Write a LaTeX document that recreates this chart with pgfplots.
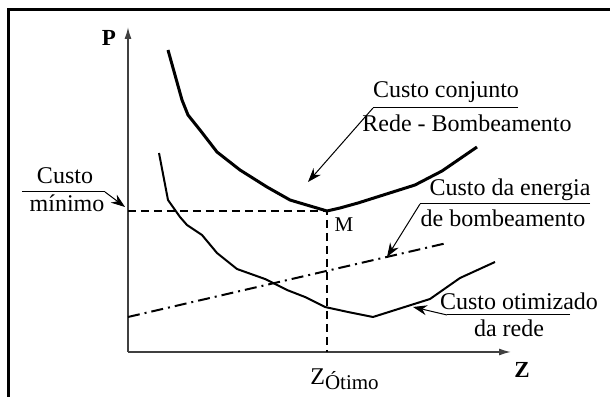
\documentclass[border=0pt]{standalone}
\usepackage{fontspec}
\setmainfont{Liberation Serif}
\usepackage{pgfplots}
\pgfplotsset{compat=1.18}
\usetikzlibrary{arrows.meta}
\tikzset{ann/.style={font=\fontsize{12}{14}\selectfont, anchor=base, inner sep=0pt},
         pointer/.style={line width=0.5pt, -{Stealth[length=7pt,width=5pt]}}}

\begin{document}
\begin{tikzpicture}
\begin{axis}[
    scale only axis,
    width=191.5pt, height=162.5pt,
    xmin=0, xmax=383, ymin=0, ymax=325,
    enlargelimits=false,
    axis lines=left,
    axis line style={draw=black!75, line width=0.75pt, -{Latex[length=6pt,width=3.5pt]}},
    ticks=none,
    clip=false,
    ]
% custo conjunto rede - bombeamento
\addplot[black, line width=1.5pt, line join=round] coordinates {
    (40,302) (54,252) (60,237) (72,222) (89,200) (112,182) (139,165)
    (162,152) (172,149) (199,141) (212,144) (230,149) (287,167) (314,181) (349,205)};
% custo otimizado da rede
\addplot[black, line width=1pt, line join=round] coordinates {
    (31,199) (40,152) (52,135) (59,127) (74,117) (89,99) (109,83) (137,73)
    (159,62) (177,55) (197,45) (220,40) (245,35) (302,53) (332,74) (367,90)};
% custo da energia de bombeamento
\addplot[black, line width=1pt, dash pattern=on 6pt off 2.5pt on 1pt off 2.5pt] coordinates {
    (0,35) (319,109)};
% minimo
\addplot[black, line width=1pt, dash pattern=on 4pt off 2.5pt] coordinates {
    (0,141) (199,141) (199,0)};

% frame
\draw[line width=1.5pt] (axis cs:482,342) -- (axis cs:-119,342) -- (axis cs:-119,-45);

% axis labels
\node[font=\fontsize{11.5}{13}\bfseries\selectfont] at (axis cs:-19,314) {P};
\node[font=\fontsize{11.5}{13}\bfseries\selectfont] at (axis cs:394,-18) {Z};
\node[anchor=base west, inner sep=0pt, font=\fontsize{12}{14}\selectfont] at (axis cs:182,-33)
    {Z\raisebox{-0.45ex}{\fontsize{10.5}{12}\selectfont Ótimo}};
\node[font=\fontsize{10.5}{12}\selectfont] at (axis cs:216,127) {M};

% annotations
\node[ann] at (axis cs:318,254) {Custo conjunto};
\node[ann] at (axis cs:339,220) {Rede - Bombeamento};
\draw[line width=0.5pt] (axis cs:390,244) -- (axis cs:245,244);
\draw[pointer] (axis cs:245,244) -- (axis cs:180,170);

\node[ann] at (axis cs:382,156) {Custo da energia};
\node[ann] at (axis cs:375,125) {de bombeamento};
\draw[line width=0.5pt] (axis cs:462,148) -- (axis cs:292,148);
\draw[pointer] (axis cs:292,148) -- (axis cs:259,95);

\node[ann] at (axis cs:391,42) {Custo otimizado};
\node[ann] at (axis cs:381,15) {da rede};
\draw[line width=0.5pt] (axis cs:442,37) -- (axis cs:319,37);
\draw[pointer] (axis cs:319,37) -- (axis cs:285,45);

\node[ann] at (axis cs:-63,168) {Custo};
\node[ann] at (axis cs:-61,140) {mínimo};
\draw[line width=0.5pt] (axis cs:-106,160) -- (axis cs:-23,160);
\draw[pointer] (axis cs:-23,160) -- (axis cs:-3,145);

\coordinate (bl) at (axis cs:-128,-45);
\coordinate (tr) at (axis cs:482,352);
\end{axis}
\pgfresetboundingbox
\useasboundingbox (bl) rectangle (tr);
\end{tikzpicture}
\end{document}
